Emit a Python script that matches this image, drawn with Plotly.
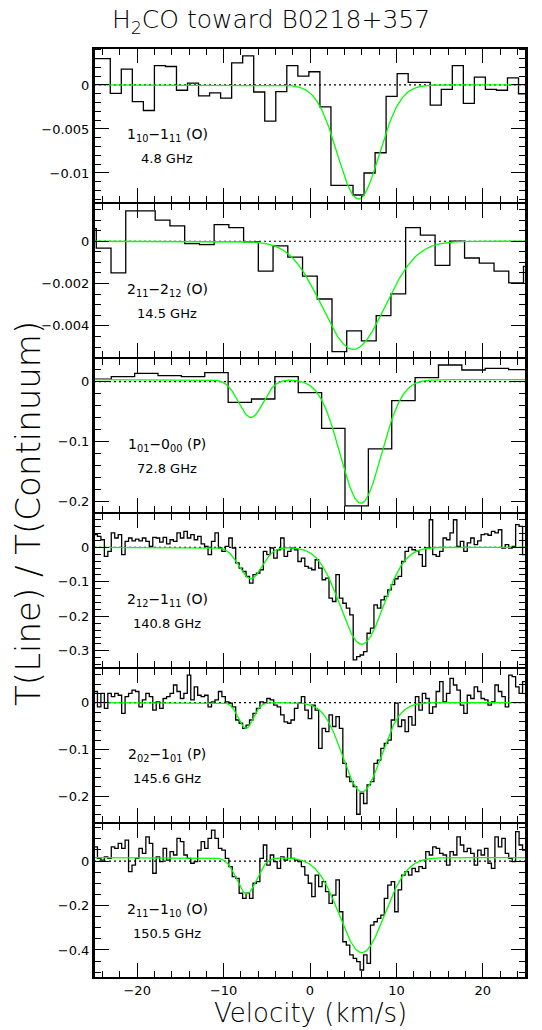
import numpy as np
import plotly.graph_objects as go
from plotly.subplots import make_subplots

# ---------------- data ----------------
# channel grids: left edge of first channel and channel width (km/s)
p1_edge0, p1_width = -25.67, 1.277
p2_edge0, p2_width = -26.44, 1.705
p3_edge0, p3_width = -25.705, 2.705
p4_edge0, p4_width = -25.0, 0.4
p5_edge0, p5_width = -25.0, 0.4
p6_edge0, p6_width = -25.0, 0.4

p1_vals = [0.0030, 0.0030, -0.00095, 0.0018, -0.0019, -0.0029, 0.0022, 0.0021, -0.0006, 0.0002,
           -0.00125, -0.0009, -0.0015, 0.0025, 0.0033, -0.0008, -0.0041, -0.00076, 0.0022, 0.0010,
           0.0015, -0.0025, -0.0114, -0.0114, -0.0125, -0.0100, -0.0077, -0.0013, 0.0013, 0.0003,
           0.0003, -0.0023, -0.0005, 0.0022, -0.0021, 0.0009, -0.0005, -0.0006, 0.0008, -0.0010]

p2_vals = [0.0006, -0.00032, -0.00149, 0.00144, 0.00144, 0.0010, 0.00073, -0.00011, -0.00016, 0.00079,
           0.00065, -0.00003, -0.00141, -0.00022, -0.00075, -0.00165, -0.00273, -0.00522, -0.00424, -0.00471,
           -0.00352, -0.00249, 0.00065, 0.00029, -0.00114, 0.0, -0.00079, -0.00103, -0.00141, -0.00197,
           -0.00119]

p3_vals = [0.0044, 0.0083, 0.0139, 0.0100, 0.0083, 0.0150, -0.0345, -0.0289, 0.0083, -0.0183,
           -0.0778, -0.207, -0.112, -0.0317, 0.0067, 0.0278, 0.0195, 0.0222, 0.020]

p4_vals = [0.037, 0.032, 0.022, -0.026, -0.012, 0.042, 0.027, 0.037, -0.021, 0.017,
           0.027, 0.019, 0.024, 0.019, 0.027, 0.017, 0.003, 0.029, 0.027, 0.015,
           0.029, 0.010, 0.022, 0.017, 0.042, 0.027, 0.046, 0.027, 0.037, 0.022,
           0.032, 0.010, 0.003, -0.021, 0.017, 0.042, -0.002, -0.012, 0.003, 0.027,
           -0.002, -0.045, -0.060, -0.070, -0.084, -0.104, -0.079, -0.075, -0.065, -0.012,
           -0.021, -0.002, -0.031, -0.007, 0.027, -0.026, -0.012, -0.002, -0.007, -0.041,
           -0.031, -0.055, -0.060, -0.065, -0.036, -0.060, -0.094, -0.089, -0.147, -0.157,
           -0.079, -0.147, -0.162, -0.176, -0.196, -0.326, -0.317, -0.312, -0.302, -0.249,
           -0.234, -0.167, -0.176, -0.152, -0.142, -0.123, -0.108, -0.091, -0.084, -0.041,
           -0.012, 0.000, -0.007, -0.010, -0.021, -0.055, -0.002, 0.080, -0.021, -0.026,
           -0.012, 0.027, 0.022, 0.042, 0.080, 0.003, 0.017, -0.012, 0.013, 0.027,
           0.008, 0.019, 0.037, 0.039, 0.035, 0.046, 0.042, 0.051, -0.002, 0.008,
           -0.002, 0.003, 0.066, 0.061, -0.021]

p5_vals = [0.024, -0.009, 0.020, -0.012, 0.020, 0.013, 0.020, 0.016, -0.023, 0.013,
           0.020, 0.027, 0.024, -0.009, 0.006, 0.020, 0.013, -0.016, 0.002, -0.012,
           0.009, 0.013, 0.020, 0.038, 0.024, 0.009, 0.020, 0.059, 0.006, 0.034,
           0.016, 0.013, 0.016, -0.009, 0.002, 0.006, 0.024, 0.013, 0.002, -0.001,
           -0.009, -0.037, -0.044, -0.055, -0.048, -0.037, -0.023, -0.012, 0.002, -0.001,
           0.009, 0.006, -0.005, -0.009, -0.026, -0.041, -0.044, -0.037, -0.012, -0.001,
           0.013, -0.016, -0.034, -0.005, -0.016, -0.098, -0.055, -0.062, -0.026, -0.051,
           -0.030, -0.055, -0.130, -0.159, -0.169, -0.180, -0.239, -0.194, -0.216, -0.176,
           -0.169, -0.130, -0.123, -0.098, -0.087, -0.080, -0.037, -0.001, -0.051, -0.037,
           -0.062, -0.030, -0.048, 0.013, -0.016, 0.020, 0.009, -0.023, -0.009, 0.024,
           0.045, 0.002, 0.020, 0.052, 0.038, 0.027, -0.005, -0.023, 0.016, 0.009,
           0.034, 0.024, 0.009, 0.006, -0.005, 0.002, 0.038, 0.024, 0.013, -0.009,
           0.059, 0.056, 0.034, 0.020, 0.045]

p6_vals = [0.064, 0.012, 0.004, 0.019, 0.012, 0.064, 0.057, 0.079, 0.057, 0.094,
           -0.048, -0.018, 0.012, 0.057, 0.034, 0.109, 0.079, -0.055, 0.019, -0.003,
           0.057, 0.004, 0.042, 0.027, 0.102, 0.087, 0.027, 0.012, -0.010, -0.003,
           0.049, 0.087, 0.057, 0.102, 0.139, 0.102, 0.057, 0.049, 0.012, -0.025,
           -0.070, -0.078, -0.145, -0.168, -0.145, -0.168, -0.100, -0.093, 0.012, 0.072,
           -0.018, 0.027, -0.003, -0.033, 0.019, 0.004, 0.057, 0.012, 0.004, -0.003,
           -0.025, -0.063, -0.100, -0.160, -0.063, -0.115, -0.093, -0.138, -0.190, -0.153,
           -0.085, -0.228, -0.363, -0.378, -0.422, -0.438, -0.452, -0.490, -0.422, -0.460,
           -0.288, -0.273, -0.258, -0.243, -0.168, -0.108, -0.093, -0.228, -0.130, -0.063,
           -0.048, -0.063, -0.033, -0.048, -0.025, -0.033, 0.042, 0.027, 0.064, 0.057,
           0.034, 0.027, -0.018, 0.042, 0.027, 0.109, 0.072, 0.042, 0.057, 0.034,
           -0.018, 0.049, 0.027, 0.057, -0.010, -0.033, 0.109, 0.064, 0.102, 0.034,
           0.012, -0.003, 0.132, 0.072, 0.049]

# Gaussian fit parameters (baseline, amplitudes, centres, sigmas)
fit_base = [0.0, 0.0, 0.0033, 0.0, 0.0, 0.015]
fit_amp = [[-0.01295], [-0.00511], [-0.063, -0.206], [-0.091, -0.281], [-0.055, -0.191], [-0.163, -0.427]]
fit_cen = [[5.6], [5.02], [-6.84, 5.88], [-6.88, 5.99], [-7.42, 6.0], [-7.34, 6.0]]
fit_sig = [[2.43], [3.64], [1.4, 2.38], [1.32, 2.5], [0.85, 2.2], [1.15, 2.6]]

line_names = ["1<sub>10</sub>\u22121<sub>11</sub> (O)", "2<sub>11</sub>\u22122<sub>12</sub> (O)",
              "1<sub>01</sub>\u22120<sub>00</sub> (P)", "2<sub>12</sub>\u22121<sub>11</sub> (O)",
              "2<sub>02</sub>\u22121<sub>01</sub> (P)", "2<sub>11</sub>\u22121<sub>10</sub> (O)"]
freqs = ["4.8 GHz", "14.5 GHz", "72.8 GHz", "140.8 GHz", "145.6 GHz", "150.5 GHz"]

y_ranges = [[-0.01341, 0.0042], [-0.00552, 0.00181], [-0.219, 0.0395],
            [-0.3497, 0.0995], [-0.2578, 0.0744], [-0.526, 0.171]]
y_dtick = [0.005, 0.002, 0.1, 0.1, 0.1, 0.2]
y_minor = [0.001, 0.0005, 0.02, 0.02, 0.02, 0.05]

x_range = [-25, 25]

# ---------------- figure ----------------
edges0 = [p1_edge0, p2_edge0, p3_edge0, p4_edge0, p5_edge0, p6_edge0]
widths = [p1_width, p2_width, p3_width, p4_width, p5_width, p6_width]
vals = [p1_vals, p2_vals, p3_vals, p4_vals, p5_vals, p6_vals]

FONT = "DejaVu Sans"
THIN = 300
fig = make_subplots(rows=6, cols=1, shared_xaxes=True, vertical_spacing=0)

vfine = np.linspace(-25, 25, 1001)
for i in range(6):
    r = i + 1
    v = vals[i]
    edges = edges0[i] + widths[i] * np.arange(len(v) + 1)
    ystep = list(v) + [v[-1]]
    # zero line (dotted)
    fig.add_trace(go.Scatter(x=x_range, y=[0, 0], mode="lines",
                             line=dict(color="black", width=1.2, dash="2px,3px"),
                             hoverinfo="skip", showlegend=False), row=r, col=1)
    # spectrum histogram
    fig.add_trace(go.Scatter(x=edges, y=ystep, mode="lines", line_shape="hv",
                             line=dict(color="black", width=1.3), showlegend=False),
                  row=r, col=1)
    # gaussian fit
    model = np.full_like(vfine, fit_base[i])
    for a, c, s in zip(fit_amp[i], fit_cen[i], fit_sig[i]):
        model = model + a * np.exp(-0.5 * ((vfine - c) / s) ** 2)
    fig.add_trace(go.Scatter(x=vfine, y=model, mode="lines",
                             line=dict(color="#00ff00", width=1.3), showlegend=False),
                  row=r, col=1)

    fig.update_yaxes(row=r, col=1, range=y_ranges[i], dtick=y_dtick[i], tick0=0,
                     showline=True, linewidth=2, linecolor="black", mirror="allticks",
                     ticks="inside", ticklen=15, tickwidth=1.3, tickcolor="black",
                     minor=dict(ticks="inside", dtick=y_minor[i], tick0=0, ticklen=7,
                                tickwidth=1.3, tickcolor="black"),
                     showgrid=False, zeroline=False,
                     tickfont=dict(family=FONT, size=13, color="black"))
    fig.update_xaxes(row=r, col=1, range=x_range, dtick=10, tick0=0,
                     showline=True, linewidth=1, linecolor="black", mirror="allticks",
                     ticks="inside", ticklen=15, tickwidth=1.3, tickcolor="black",
                     minor=dict(ticks="inside", dtick=2, tick0=0, ticklen=7,
                                tickwidth=1.3, tickcolor="black"),
                     showgrid=False, zeroline=False, showticklabels=(r == 6),
                     tickfont=dict(family=FONT, size=13, color="black"))

    yref = "y domain" if r == 1 else f"y{r} domain"
    fig.add_annotation(text=line_names[i], xref="paper", yref=yref, x=0.169, y=0.439,
                       xanchor="center", yanchor="middle", showarrow=False,
                       font=dict(family=FONT, size=14, color="black"))
    fig.add_annotation(text=freqs[i], xref="paper", yref=yref, x=0.169, y=0.284,
                       xanchor="center", yanchor="middle", showarrow=False,
                       font=dict(family=FONT, size=13, color="black"))

fig.update_xaxes(row=6, col=1, ticklabelstandoff=0)

# outer frame and panel boundaries (2 px like the reference)
fig.add_shape(type="rect", xref="paper", yref="paper", x0=0, x1=1, y0=0, y1=1,
              line=dict(color="black", width=2), fillcolor="rgba(0,0,0,0)", layer="above")
for k in range(1, 6):
    fig.add_shape(type="line", xref="paper", yref="paper", x0=0, x1=1, y0=k / 6, y1=k / 6,
                  line=dict(color="black", width=2), layer="above")

fig.add_annotation(text="T(Line) / T(Continuum)", xref="paper", yref="paper",
                   x=-0.153, y=0.5, xanchor="center", yanchor="middle", textangle=-90,
                   showarrow=False, font=dict(family=FONT, size=34, color="black", weight=THIN))
fig.add_annotation(text="Velocity (km/s)", xref="paper", yref="paper",
                   x=0.5, y=-0.0375, xanchor="center", yanchor="middle",
                   showarrow=False, font=dict(family=FONT, size=26, color="black", weight=THIN))

fig.update_layout(
    width=542, height=1030,
    margin=dict(l=94, r=16, t=48, b=52),
    paper_bgcolor="white", plot_bgcolor="white",
    title=dict(text="H<sub>2</sub>CO toward B0218+357", x=0.5, xref="container",
               y=0.981, yref="container", xanchor="center", yanchor="middle",
               font=dict(family=FONT, size=25, color="black", weight=THIN)),
    showlegend=False,
)

fig.write_html("out.html")
